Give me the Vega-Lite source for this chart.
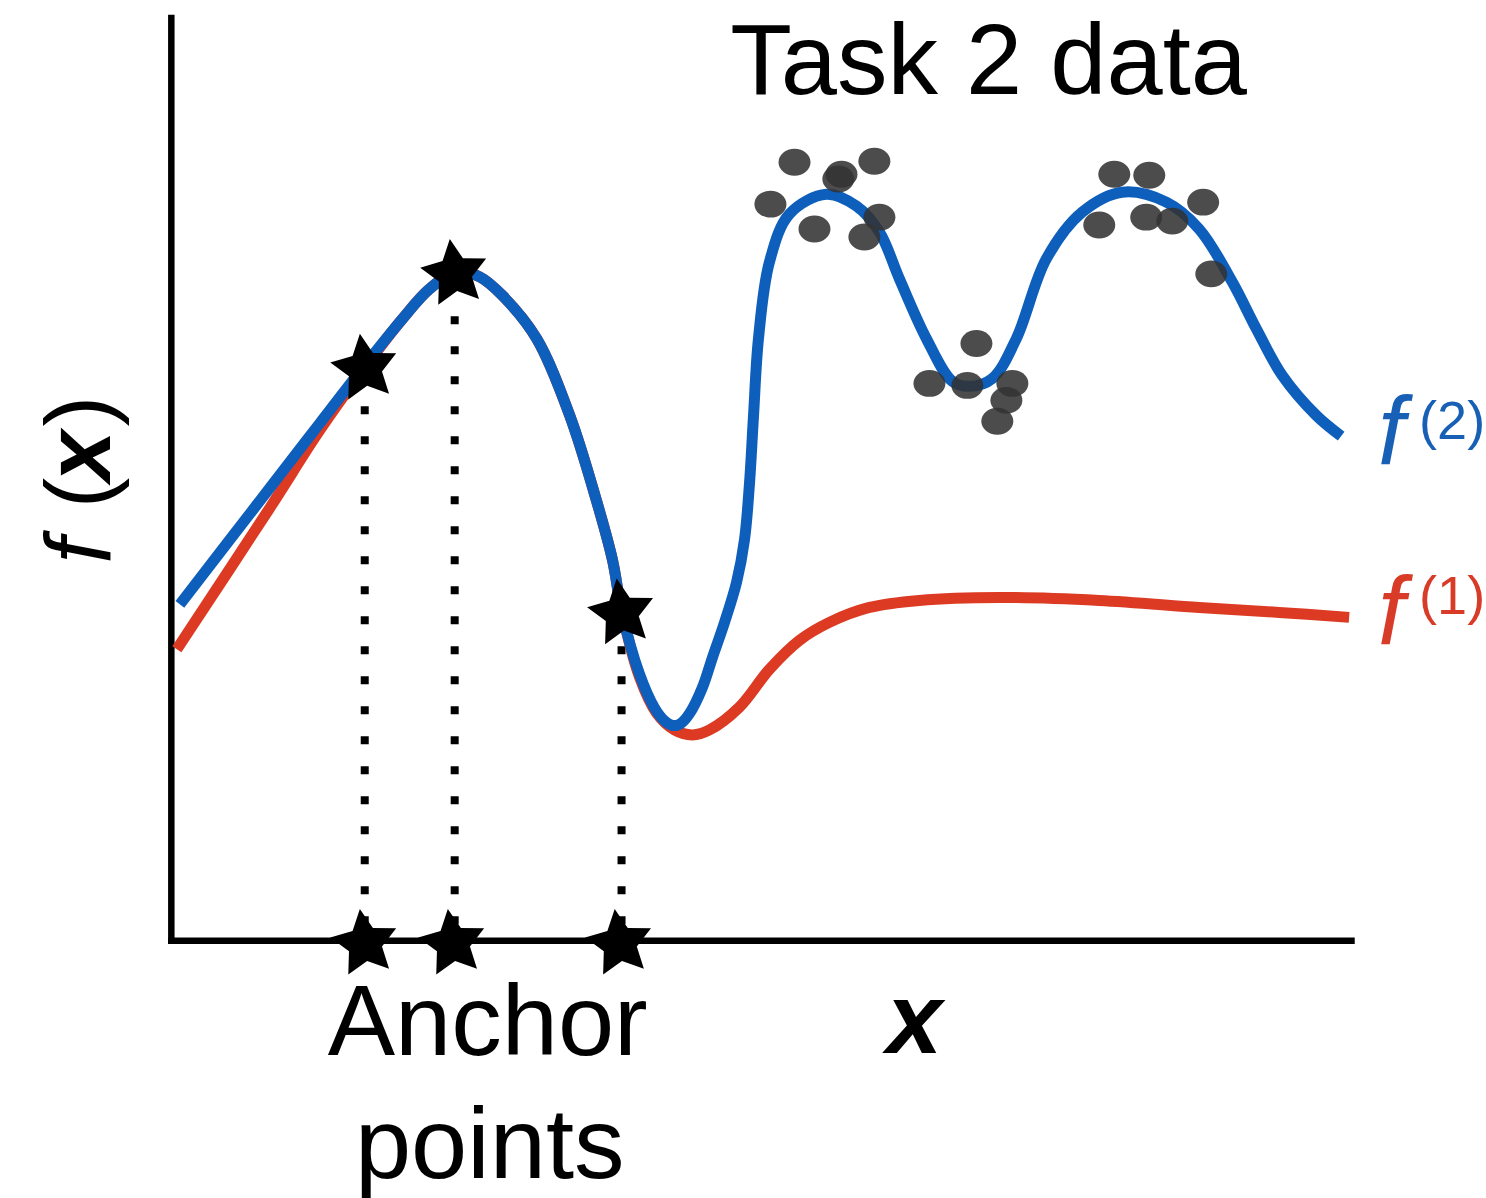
{
  "$schema": "https://vega.github.io/schema/vega-lite/v6.json",
  "width": 1486,
  "height": 1198,
  "autosize": {"type": "fit", "contains": "padding"},
  "padding": 0,
  "background": "white",
  "config": {"view": {"stroke": null}},
  "data": {"values": [
    {"kind": "axis", "x": -0.03, "y": -0.03, "x2": 10.02, "y2": -0.03},
    {"kind": "axis", "x": -0.03, "y": -0.03, "x2": -0.03, "y2": 10.0},

    {"kind": "guide", "x": 1.617, "y": 0.15, "y2": 5.95},
    {"kind": "guide", "x": 2.383, "y": 0.15, "y2": 6.9},
    {"kind": "guide", "x": 3.804, "y": 0.15, "y2": 3.25},

    {"kind": "f1", "x": 0.017, "y": 3.139},
    {"kind": "f1", "x": 0.809, "y": 4.675},
    {"kind": "f1", "x": 1.234, "y": 5.519},
    {"kind": "f1", "x": 1.617, "y": 6.201},
    {"kind": "f1", "x": 1.94, "y": 6.732},
    {"kind": "f1", "x": 2.17, "y": 7.056},
    {"kind": "f1", "x": 2.4, "y": 7.24},
    {"kind": "f1", "x": 2.596, "y": 7.186},
    {"kind": "f1", "x": 2.791, "y": 6.981},
    {"kind": "f1", "x": 3.081, "y": 6.515},
    {"kind": "f1", "x": 3.362, "y": 5.682},
    {"kind": "f1", "x": 3.591, "y": 4.751},
    {"kind": "f1", "x": 3.728, "y": 4.102},
    {"kind": "f1", "x": 3.804, "y": 3.561},
    {"kind": "f1", "x": 3.957, "y": 2.835},
    {"kind": "f1", "x": 4.102, "y": 2.446},
    {"kind": "f1", "x": 4.255, "y": 2.262},
    {"kind": "f1", "x": 4.409, "y": 2.208},
    {"kind": "f1", "x": 4.553, "y": 2.262},
    {"kind": "f1", "x": 4.809, "y": 2.511},
    {"kind": "f1", "x": 5.064, "y": 2.922},
    {"kind": "f1", "x": 5.319, "y": 3.236},
    {"kind": "f1", "x": 5.574, "y": 3.431},
    {"kind": "f1", "x": 5.915, "y": 3.593},
    {"kind": "f1", "x": 6.34, "y": 3.669},
    {"kind": "f1", "x": 7.021, "y": 3.701},
    {"kind": "f1", "x": 7.872, "y": 3.669},
    {"kind": "f1", "x": 8.723, "y": 3.593},
    {"kind": "f1", "x": 9.404, "y": 3.539},
    {"kind": "f1", "x": 10.0, "y": 3.485},

    {"kind": "f2", "x": 0.043, "y": 3.626},
    {"kind": "f2", "x": 0.809, "y": 4.892},
    {"kind": "f2", "x": 1.234, "y": 5.595},
    {"kind": "f2", "x": 1.617, "y": 6.223},
    {"kind": "f2", "x": 1.94, "y": 6.732},
    {"kind": "f2", "x": 2.17, "y": 7.056},
    {"kind": "f2", "x": 2.4, "y": 7.24},
    {"kind": "f2", "x": 2.596, "y": 7.186},
    {"kind": "f2", "x": 2.791, "y": 6.981},
    {"kind": "f2", "x": 3.081, "y": 6.515},
    {"kind": "f2", "x": 3.362, "y": 5.682},
    {"kind": "f2", "x": 3.591, "y": 4.751},
    {"kind": "f2", "x": 3.728, "y": 4.102},
    {"kind": "f2", "x": 3.804, "y": 3.561},
    {"kind": "f2", "x": 3.957, "y": 2.868},
    {"kind": "f2", "x": 4.085, "y": 2.5},
    {"kind": "f2", "x": 4.17, "y": 2.36},
    {"kind": "f2", "x": 4.238, "y": 2.31},
    {"kind": "f2", "x": 4.306, "y": 2.33},
    {"kind": "f2", "x": 4.383, "y": 2.44},
    {"kind": "f2", "x": 4.494, "y": 2.727},
    {"kind": "f2", "x": 4.579, "y": 3.052},
    {"kind": "f2", "x": 4.681, "y": 3.431},
    {"kind": "f2", "x": 4.783, "y": 3.864},
    {"kind": "f2", "x": 4.851, "y": 4.329},
    {"kind": "f2", "x": 4.894, "y": 4.95},
    {"kind": "f2", "x": 4.928, "y": 5.68},
    {"kind": "f2", "x": 4.97, "y": 6.515},
    {"kind": "f2", "x": 5.064, "y": 7.35},
    {"kind": "f2", "x": 5.234, "y": 7.87},
    {"kind": "f2", "x": 5.549, "y": 8.084},
    {"kind": "f2", "x": 5.804, "y": 7.955},
    {"kind": "f2", "x": 6.0, "y": 7.673},
    {"kind": "f2", "x": 6.17, "y": 7.165},
    {"kind": "f2", "x": 6.4, "y": 6.515},
    {"kind": "f2", "x": 6.621, "y": 6.05},
    {"kind": "f2", "x": 6.766, "y": 5.996},
    {"kind": "f2", "x": 6.962, "y": 6.082},
    {"kind": "f2", "x": 7.166, "y": 6.515},
    {"kind": "f2", "x": 7.421, "y": 7.381},
    {"kind": "f2", "x": 7.728, "y": 7.89},
    {"kind": "f2", "x": 8.068, "y": 8.106},
    {"kind": "f2", "x": 8.443, "y": 7.998},
    {"kind": "f2", "x": 8.723, "y": 7.706},
    {"kind": "f2", "x": 9.004, "y": 7.132},
    {"kind": "f2", "x": 9.209, "y": 6.623},
    {"kind": "f2", "x": 9.43, "y": 6.115},
    {"kind": "f2", "x": 9.719, "y": 5.682},
    {"kind": "f2", "x": 9.932, "y": 5.455},

    {"kind": "dot", "x": 5.277, "y": 8.431},
    {"kind": "dot", "x": 5.677, "y": 8.301},
    {"kind": "dot", "x": 5.65, "y": 8.25},
    {"kind": "dot", "x": 5.957, "y": 8.442},
    {"kind": "dot", "x": 5.072, "y": 7.976},
    {"kind": "dot", "x": 5.447, "y": 7.706},
    {"kind": "dot", "x": 6.0, "y": 7.835},
    {"kind": "dot", "x": 5.872, "y": 7.619},
    {"kind": "dot", "x": 6.826, "y": 6.461},
    {"kind": "dot", "x": 6.426, "y": 6.028},
    {"kind": "dot", "x": 6.749, "y": 6.006},
    {"kind": "dot", "x": 7.132, "y": 6.028},
    {"kind": "dot", "x": 7.081, "y": 5.844},
    {"kind": "dot", "x": 7.004, "y": 5.617},
    {"kind": "dot", "x": 8.0, "y": 8.301},
    {"kind": "dot", "x": 8.298, "y": 8.29},
    {"kind": "dot", "x": 7.872, "y": 7.749},
    {"kind": "dot", "x": 8.272, "y": 7.835},
    {"kind": "dot", "x": 8.494, "y": 7.792},
    {"kind": "dot", "x": 8.757, "y": 7.998},
    {"kind": "dot", "x": 8.826, "y": 7.219},

    {"kind": "star", "x": 1.617, "y": 6.19},
    {"kind": "star", "x": 2.383, "y": 7.22},
    {"kind": "star", "x": 3.804, "y": 3.53},
    {"kind": "star", "x": 1.617, "y": -0.06},
    {"kind": "star", "x": 2.366, "y": -0.06},
    {"kind": "star", "x": 3.787, "y": -0.06},

    {"kind": "text", "x": 6.93, "y": 9.177, "label": "Task 2 data"},
    {"kind": "text", "x": 2.664, "y": -1.266, "label": "Anchor"},
    {"kind": "text", "x": 2.681, "y": -2.608, "label": "points"},
    {"kind": "xlab", "x": 6.298, "y": -1.245, "label": "x"},

    {"kind": "ylab_f", "x": -0.553, "y": 4.21, "label": "f"},
    {"kind": "ylab_p", "x": -0.553, "y": 4.838, "label": "("},
    {"kind": "ylab_x", "x": -0.553, "y": 5.238, "label": "x"},
    {"kind": "ylab_p", "x": -0.553, "y": 5.725, "label": ")"},

    {"kind": "flab", "series": "f2", "x": 10.36, "y": 5.15, "label": "f"},
    {"kind": "flab", "series": "f1", "x": 10.36, "y": 3.2, "label": "f"},
    {"kind": "fsup", "series": "f2", "x": 10.596, "y": 5.422, "label": "(2)"},
    {"kind": "fsup", "series": "f1", "x": 10.596, "y": 3.517, "label": "(1)"}
  ]},
  "encoding": {
    "x": {"field": "x", "type": "quantitative", "scale": {"domain": [-1.489, 11.157], "nice": false, "zero": false}, "axis": null},
    "y": {"field": "y", "type": "quantitative", "scale": {"domain": [-2.771, 10.195], "nice": false, "zero": false}, "axis": null}
  },
  "layer": [
    {
      "transform": [{"filter": "datum.kind === 'guide'"}],
      "mark": {"type": "rule", "color": "#000000", "strokeWidth": 8, "strokeDash": [8, 22]},
      "encoding": {"y2": {"field": "y2"}}
    },
    {
      "transform": [{"filter": "datum.kind === 'axis'"}],
      "mark": {"type": "rule", "color": "#000000", "strokeWidth": 6.5, "strokeCap": "square"},
      "encoding": {"x2": {"field": "x2"}, "y2": {"field": "y2"}}
    },
    {
      "transform": [{"filter": "datum.kind === 'f1'"}],
      "mark": {"type": "line", "color": "#dc3a22", "strokeWidth": 11, "interpolate": "catmull-rom"},
      "encoding": {}
    },
    {
      "transform": [{"filter": "datum.kind === 'f2'"}],
      "mark": {"type": "line", "color": "#0d5fbb", "strokeWidth": 11, "interpolate": "catmull-rom"},
      "encoding": {}
    },
    {
      "transform": [{"filter": "datum.kind === 'dot'"}],
      "mark": {"type": "point", "shape": "M-1,0A1,0.84 0 1,0 1,0A1,0.84 0 1,0 -1,0Z", "filled": true, "color": "#333333", "opacity": 0.88, "size": 1024},
      "encoding": {}
    },
    {
      "transform": [{"filter": "datum.kind === 'star'"}],
      "mark": {"type": "point", "shape": "M0,-1L0.294,-0.405L0.951,-0.309L0.476,0.155L0.588,0.809L0,0.5L-0.588,0.809L-0.476,0.155L-0.951,-0.309L-0.294,-0.405Z", "filled": true, "color": "#000000", "opacity": 1, "size": 4900, "angle": -8},
      "encoding": {}
    },
    {
      "transform": [{"filter": "datum.kind === 'text'"}],
      "mark": {"type": "text", "font": "Liberation Sans", "fontSize": 101, "align": "center", "baseline": "alphabetic", "color": "#000000"},
      "encoding": {"text": {"field": "label"}}
    },
    {
      "transform": [{"filter": "datum.kind === 'xlab'"}],
      "mark": {"type": "text", "font": "Liberation Sans", "fontSize": 100, "fontWeight": "bold", "fontStyle": "italic", "align": "center", "baseline": "alphabetic", "color": "#000000"},
      "encoding": {"text": {"field": "label"}}
    },
    {
      "transform": [{"filter": "datum.kind === 'ylab_f'"}],
      "mark": {"type": "text", "font": "Liberation Sans", "fontSize": 92, "fontStyle": "italic", "angle": 270, "align": "center", "baseline": "alphabetic", "color": "#000000"},
      "encoding": {"text": {"field": "label"}}
    },
    {
      "transform": [{"filter": "datum.kind === 'ylab_p'"}],
      "mark": {"type": "text", "font": "Liberation Sans", "fontSize": 92, "angle": 270, "align": "center", "baseline": "alphabetic", "color": "#000000"},
      "encoding": {"text": {"field": "label"}}
    },
    {
      "transform": [{"filter": "datum.kind === 'ylab_x'"}],
      "mark": {"type": "text", "font": "Liberation Sans", "fontSize": 92, "fontWeight": "bold", "fontStyle": "italic", "angle": 270, "align": "center", "baseline": "alphabetic", "color": "#000000"},
      "encoding": {"text": {"field": "label"}}
    },
    {
      "transform": [{"filter": "datum.kind === 'flab'"}],
      "mark": {"type": "text", "font": "Liberation Sans", "fontSize": 96, "fontStyle": "italic", "align": "center", "baseline": "alphabetic"},
      "encoding": {
        "text": {"field": "label"},
        "color": {"field": "series", "type": "nominal", "scale": {"domain": ["f1", "f2"], "range": ["#d83b27", "#1760b5"]}, "legend": null}
      }
    },
    {
      "transform": [{"filter": "datum.kind === 'fsup'"}],
      "mark": {"type": "text", "font": "Liberation Sans", "fontSize": 54, "align": "left", "baseline": "alphabetic"},
      "encoding": {
        "text": {"field": "label"},
        "color": {"field": "series", "type": "nominal", "scale": {"domain": ["f1", "f2"], "range": ["#d83b27", "#1760b5"]}, "legend": null}
      }
    }
  ]
}
